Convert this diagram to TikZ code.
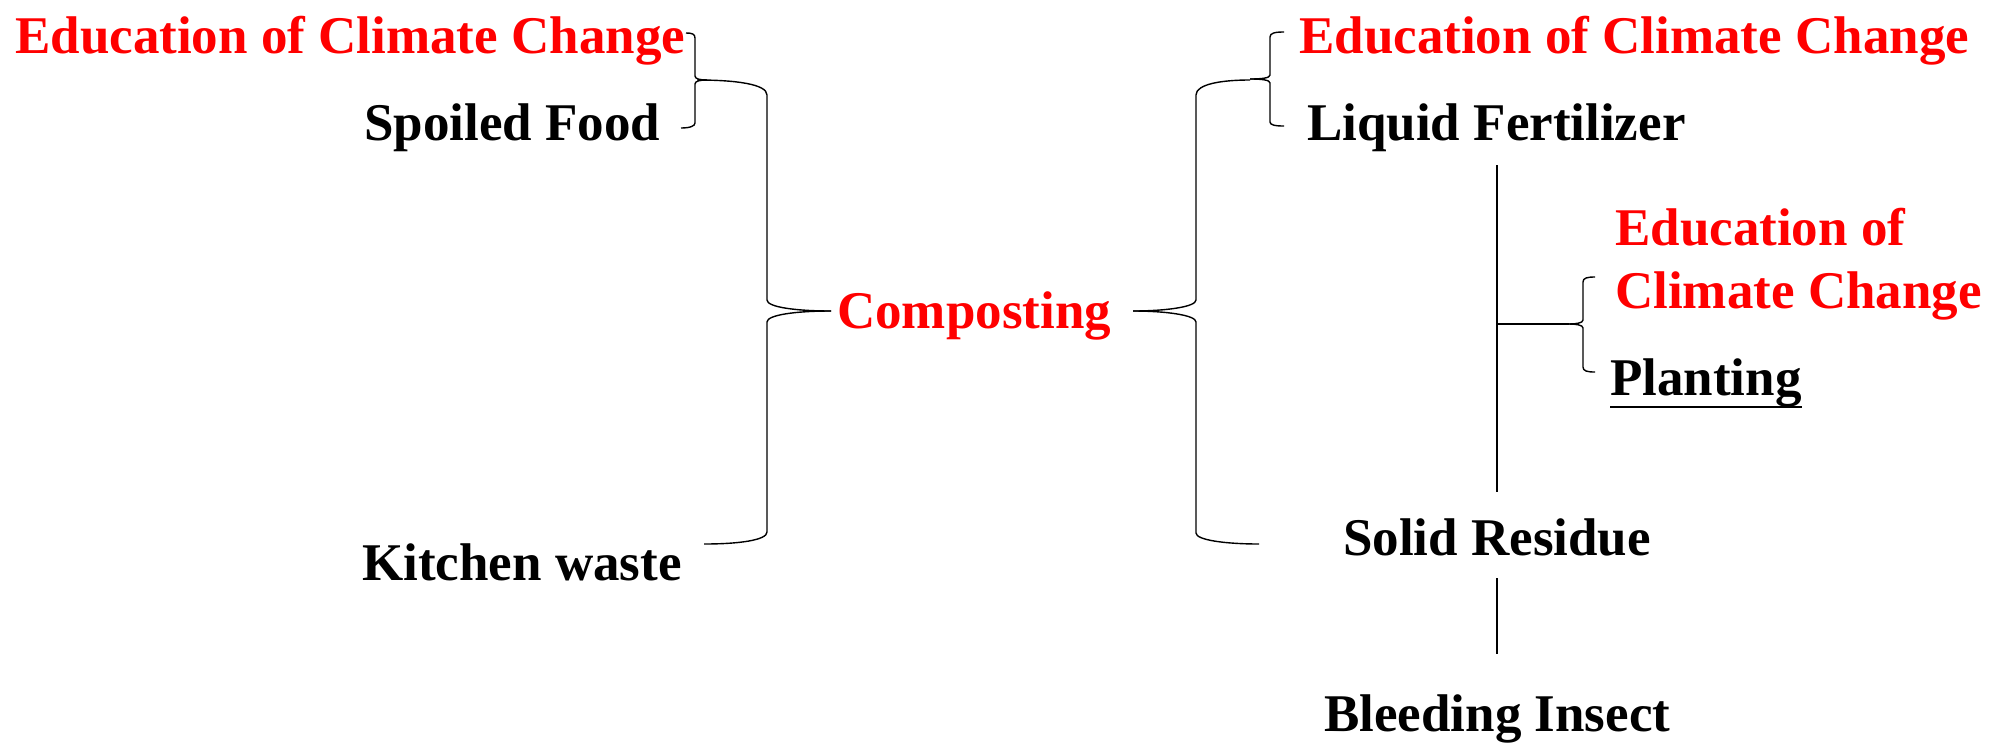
\documentclass[tikz,border=0pt]{standalone}
\usepackage{fontspec}
\setmainfont{Liberation Serif}
\begin{document}
\begin{tikzpicture}[x=1pt,y=-1pt,
  txt/.style={anchor=base west, inner sep=0pt, font=\fontsize{53}{63}\selectfont\bfseries},
  edu/.style={txt, text=red},
  ln/.style={draw=black, line width=1.4pt},
  uline/.style={draw=black, line width=2.6pt}]
\useasboundingbox (0,0) rectangle (1989,745);
% texts
\node[edu] (eduL) at (15,53) {Education of Climate Change};
\node[txt] (spoiled) at (364,140) {Spoiled Food};
\node[txt] (kitchen) at (362,580) {Kitchen waste};
\node[edu] (comp) at (837,328) {Composting};
\node[edu] (eduR) at (1299,53) {Education of Climate Change};
\node[txt] (liquid) at (1307,140) {Liquid Fertilizer};
\node[edu] (eduPa) at (1615,245) {Education of};
\node[edu] (eduPb) at (1615,308) {Climate Change};
\node[txt] (plant) at (1610,395) {Planting};
\node[txt] (solid) at (1343,555) {Solid Residue};
\node[txt] (bleed) at (1324,731) {Bleeding Insect};
% underline of Planting
\draw[uline] ([yshift=-12pt]plant.base west) -- ([yshift=-12pt]plant.base east);
% key coordinates
\coordinate (tipSL) at (707,80);
\coordinate (tipBL) at (831,311);
\coordinate (tipBR) at (1133,311);
\coordinate (tipSR) at (1250,79);
\coordinate (tipSP) at (1569,324);
\coordinate (vTop) at (1497,165);
\coordinate (vMid) at (1497,324);
\coordinate (vBot) at (1497,492);
\coordinate (wTop) at (1497,578);
\coordinate (wBot) at (1497,654);
% small left brace (Education / Spoiled Food)
\draw[ln] (686,33) .. controls (692,33) and (695,34) .. (695,38) -- (695,76)
  .. controls (695,79) and (700,80) .. (tipSL);
\draw[ln] (tipSL) .. controls (700,80) and (695,81) .. (695,84) -- (695,123)
  .. controls (695,126) and (690,128) .. (681,128);
% big left brace
\draw[ln] (697,80) .. controls (735,80) and (767,84) .. (767,95) -- (767,300)
  .. controls (767,307) and (795,311) .. (tipBL);
\draw[ln] (tipBL) .. controls (795,311) and (767,315) .. (767,322) -- (767,532)
  .. controls (767,540) and (740,544) .. (704,544);
% big right brace
\draw[ln] (tipBR) .. controls (1165,311) and (1196,307) .. (1196,300) -- (1196,95)
  .. controls (1196,84) and (1222,80) .. (1250,80);
\draw[ln] (tipBR) .. controls (1165,311) and (1196,315) .. (1196,322) -- (1196,533)
  .. controls (1196,540) and (1225,544) .. (1259,544);
% small right brace (Education / Liquid Fertilizer)
\draw[ln] (1284,32) .. controls (1275,32) and (1270,33) .. (1270,37) -- (1270,75)
  .. controls (1270,78) and (1262,79) .. (tipSR);
\draw[ln] (tipSR) .. controls (1262,79) and (1270,80) .. (1270,83) -- (1270,122)
  .. controls (1270,125) and (1275,126) .. (1284,126);
% small brace (Education / Planting)
\draw[ln] (1595,277) .. controls (1587,277) and (1583,278) .. (1583,282) -- (1583,320)
  .. controls (1583,323) and (1576,324) .. (tipSP);
\draw[ln] (tipSP) .. controls (1576,324) and (1583,325) .. (1583,328) -- (1583,367)
  .. controls (1583,371) and (1587,372) .. (1595,372);
% connectors
\draw[ln] (vTop) -- (vBot);
\draw[ln] (vMid) -- (tipSP);
\draw[ln] (wTop) -- (wBot);
\end{tikzpicture}
\end{document}
